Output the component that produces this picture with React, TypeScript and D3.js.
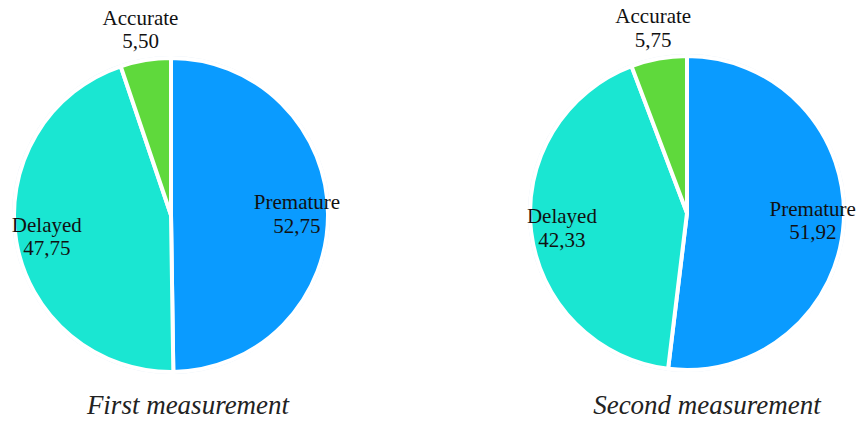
import React from "react";
import * as d3 from "d3";

const categories = ["Premature", "Delayed", "Accurate"];
const firstValues = [52.75, 47.75, 5.5];
const secondValues = [51.92, 42.33, 5.75];
const valueLabelsFirst = ["52,75", "47,75", "5,50"];
const valueLabelsSecond = ["51,92", "42,33", "5,75"];
const titles = ["First measurement", "Second measurement"];
const colors = ["#0a9bff", "#1ae6d2", "#5fd93c"];

const W = 858;
const H = 421;
const R = 157;
const SERIF = "Liberation Serif, Times New Roman, serif";

type PieProps = {
  cx: number;
  cy: number;
  values: number[];
  labels: string[];
  title: string;
  titleX: number;
};

function Pie({ cx, cy, values, labels, title, titleX }: PieProps) {
  const pie = d3
    .pie<number>()
    .sort(null)
    .value((d) => d)
    .startAngle(0)
    .endAngle(2 * Math.PI);
  const arcs = pie(values);
  const arc = d3.arc<d3.PieArcDatum<number>>().innerRadius(0).outerRadius(R);
  const inside = d3.arc<d3.PieArcDatum<number>>().innerRadius(126).outerRadius(126);
  const outside = d3.arc<d3.PieArcDatum<number>>().innerRadius(188).outerRadius(188);
  const lineGap = 23.5;

  return (
    <g>
      <g transform={`translate(${cx},${cy})`}>
        <circle r={R + 1.5} fill="none" stroke="#dfeaf6" strokeWidth={1} />
        {arcs.map((a, i) => (
          <path
            key={categories[i]}
            d={arc(a) || ""}
            fill={colors[i]}
            stroke="#ffffff"
            strokeWidth={4}
            strokeLinejoin="round"
          />
        ))}
        {arcs.map((a, i) => {
          const small = a.endAngle - a.startAngle < 0.5;
          const [x, y] = (small ? outside : inside).centroid(a);
          return (
            <text
              key={`lab-${i}`}
              x={x}
              y={y}
              textAnchor="middle"
              style={{ fontFamily: SERIF, fontSize: "21px" }}
              fill="#111"
            >
              <tspan x={x} dy={-lineGap / 2 + 7}>
                {categories[i]}
              </tspan>
              <tspan x={x} dy={lineGap}>
                {labels[i]}
              </tspan>
            </text>
          );
        })}
      </g>
      <text
        x={titleX}
        y={414}
        textAnchor="middle"
        style={{ fontFamily: SERIF, fontSize: "27px", fontStyle: "italic" }}
        fill="#222"
      >
        {title}
      </text>
    </g>
  );
}

export default function App() {
  return (
    <svg
      width={W}
      height={H}
      viewBox={`0 0 ${W} ${H}`}
      style={{ position: "absolute", left: 0, top: 0, background: "#fff" }}
    >
      <Pie cx={171} cy={215} values={firstValues} labels={valueLabelsFirst} title={titles[0]} titleX={188} />
      <Pie cx={687} cy={213} values={secondValues} labels={valueLabelsSecond} title={titles[1]} titleX={707} />
    </svg>
  );
}
